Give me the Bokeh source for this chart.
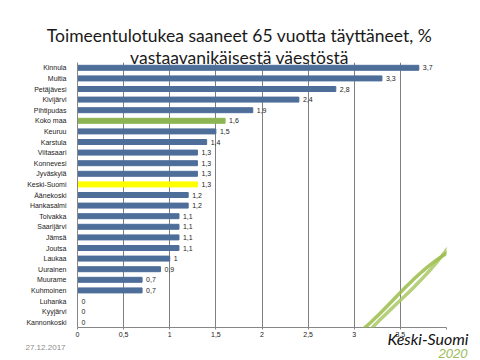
import numpy as np
from bokeh.plotting import figure
from bokeh.models import FactorRange, Range1d, FixedTicker, Label, PolyAnnotation, ColumnDataSource
from bokeh.embed import file_html
from bokeh.resources import INLINE
from bokeh.core.properties import value

# ---- data ----
areas = ["Kinnula", "Multia", "Petäjävesi", "Kivijärvi", "Pihtipudas", "Koko maa", "Keuruu",
         "Karstula", "Viitasaari", "Konnevesi", "Jyväskylä", "Keski-Suomi", "Äänekoski",
         "Hankasalmi", "Toivakka", "Saarijärvi", "Jämsä", "Joutsa", "Laukaa", "Uurainen",
         "Muurame", "Kuhmoinen", "Luhanka", "Kyyjärvi", "Kannonkoski"]
values = [3.7, 3.3, 2.8, 2.4, 1.9, 1.6, 1.5, 1.4, 1.3, 1.3, 1.3, 1.3, 1.2, 1.2,
          1.1, 1.1, 1.1, 1.1, 1.0, 0.9, 0.7, 0.7, 0.0, 0.0, 0.0]
highlight = {"Koko maa": "#8DB452", "Keski-Suomi": "#FFFF00"}
x_ticks = [0, 0.5, 1, 1.5, 2, 2.5, 3, 3.5, 4]
x_tick_labels = ["0", "0,5", "1", "1,5", "2", "2,5", "3", "3,5", ""]
title_lines = ["Toimeentulotukea saaneet 65 vuotta täyttäneet, %", "vastaavanikäisestä väestöstä"]
date_text = "27.12.2017"
logo_text = "Keski-Suomi"
logo_year = "2020"

BAR = "#4E6E9A"
colors = [highlight.get(a, BAR) for a in areas]
labels = [("%g" % v).replace(".", ",") for v in values]

src = ColumnDataSource(dict(area=areas, val=values, color=colors, lab=labels))

W, H = 480, 360
p = figure(width=W, height=H, output_backend="svg", toolbar_location=None,
           y_range=FactorRange(factors=list(reversed(areas))), x_range=Range1d(0, 4),
           min_border_left=77, min_border_right=34, min_border_top=62, min_border_bottom=33)
p.outline_line_color = None
p.background_fill_color = "white"

p.hbar(y="area", right="val", height=0.47, color="color", source=src)
p.text(x="val", y="area", text="lab", source=src, x_offset=4, text_baseline="middle",
       text_font=value("Liberation Sans"), text_font_size="7px", text_color="#222222")

# axes
p.xaxis.ticker = FixedTicker(ticks=x_ticks)
p.xaxis.major_label_overrides = {t: l for t, l in zip(x_ticks, x_tick_labels)}
p.xaxis.major_label_text_font = "Liberation Sans"
p.xaxis.major_label_text_font_size = "7px"
p.xaxis.major_label_text_color = "#222222"
p.xaxis.axis_line_color = "#868686"
p.xaxis.major_tick_line_color = "#868686"
p.xaxis.major_tick_out = 2
p.xaxis.major_tick_in = 0
p.xaxis.minor_tick_line_color = None
p.xaxis.major_label_standoff = 2

p.yaxis.major_label_text_font = "Liberation Sans"
p.yaxis.major_label_text_font_size = "7px"
p.yaxis.major_label_text_color = "#222222"
p.yaxis.axis_line_color = "#868686"
p.yaxis.major_tick_line_color = None
p.yaxis.major_label_standoff = 5

p.xgrid.grid_line_color = "#7F7F7F"
p.xgrid.grid_line_width = 1
p.xgrid.ticker = FixedTicker(ticks=x_ticks)
p.ygrid.grid_line_color = None

# decorative logo swooshes (canvas px; clipped to the plot frame)
def bez(P0, P1, P2, P3, n=40):
    t = np.linspace(0, 1, n)[:, None]
    pts = ((1 - t) ** 3) * np.array(P0) + 3 * ((1 - t) ** 2) * t * np.array(P1) \
        + 3 * (1 - t) * t ** 2 * np.array(P2) + t ** 3 * np.array(P3)
    return pts[:, 0], pts[:, 1]

for (P0, P1, P2, P3), col in [(((347, 364), (365, 310), (465, 275), (484, 160)), "#A9C864"),
                              (((298, 364), (385, 340), (400, 260), (484, 236)), "#9BBD4A")]:
    xs, ys = bez(P0, P1, P2, P3)
    xs = list(xs) + list(xs[::-1])
    ys = list(ys) + list(ys[::-1])
    p.add_layout(PolyAnnotation(xs=xs, ys=ys, xs_units="canvas", ys_units="canvas",
                                fill_alpha=0, line_color=col, line_width=3.5, line_alpha=0.85))

def lab(txt, x, y, align, font, size, color, style="normal"):
    return Label(x=x, y=y, x_units="canvas", y_units="canvas", text=txt,
                 text_align=align, text_baseline="alphabetic", text_font=font,
                 text_font_style=style, text_font_size=size, text_color=color)

# texts placed in side panels (not clipped there), positioned in canvas pixels
p.add_layout(lab(title_lines[0], 239, 35, "center", "Lato", "17.5px", "#1A1A1A"), "above")
p.add_layout(lab(title_lines[1], 239, 57, "center", "Lato", "17.5px", "#1A1A1A"), "above")
p.add_layout(lab(logo_text, 468, 338, "right", "Lato", "16px", "#111111", "italic"), "above")
p.add_layout(lab(date_text, 25, 347, "left", "Liberation Sans", "8px", "#8C8C8C"), "below")
p.add_layout(lab(logo_year, 467, 353, "right", "Liberation Sans", "13px", "#9BBB59", "italic"), "below")

open("out.html", "w").write(file_html(p, INLINE))
